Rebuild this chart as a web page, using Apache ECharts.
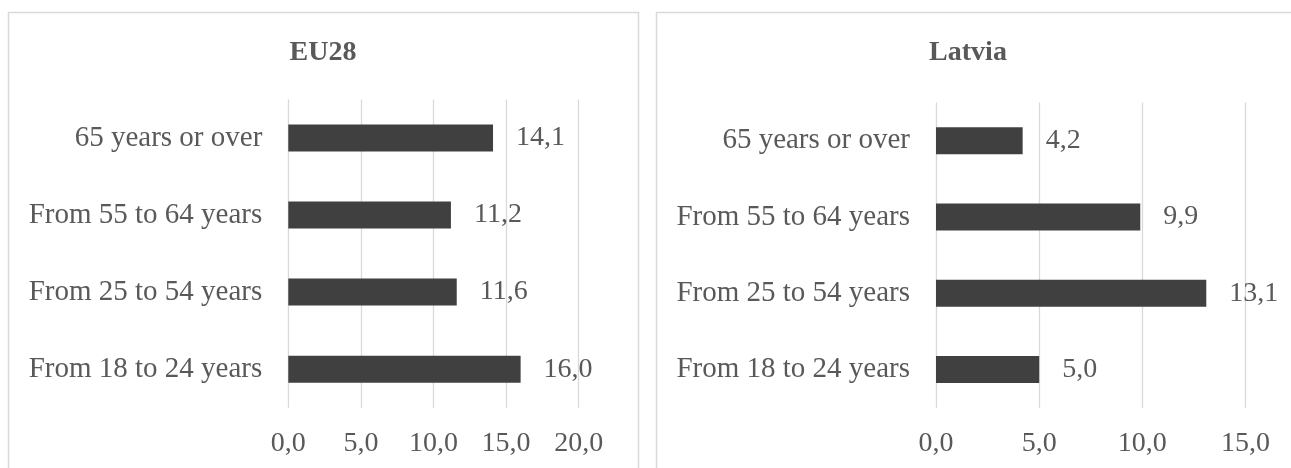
<!DOCTYPE html>
<html>
<head>
<meta charset="utf-8">
<script src="https://cdn.jsdelivr.net/npm/echarts@6/dist/echarts.min.js"></script>
<style>
  html, body { margin: 0; padding: 0; background: #ffffff; }
  #chart { width: 1291px; height: 468px; }
</style>
</head>
<body>
<div id="chart"></div>
<script>
// Age groups, listed bottom to top as drawn on the category axis
const ageGroups = ['From 18 to 24 years', 'From 25 to 54 years', 'From 55 to 64 years', '65 years or over'];
// Shares per age group (%)
const eu28Values = [16.0, 11.6, 11.2, 14.1];
const latviaValues = [5.0, 13.1, 9.9, 4.2];
const panelTitles = ['EU28', 'Latvia'];

const FONT = '"Liberation Serif", "Times New Roman", serif';
const TEXT = '#595959';
const BAR = '#404040';
const GRID_LINE = '#d9d9d9';

const comma = v => Number(v).toFixed(1).replace('.', ',');

function valueAxis(gridIndex, max) {
  return {
    type: 'value', gridIndex, min: 0, max, interval: 5,
    axisLine: { show: false }, axisTick: { show: false },
    splitLine: { show: true, showMinLine: true, showMaxLine: true, lineStyle: { color: GRID_LINE, width: 1.3 } },
    axisLabel: { formatter: comma, color: TEXT, fontFamily: FONT, fontSize: 28, margin: 22 }
  };
}

function categoryAxis(gridIndex) {
  return {
    type: 'category', gridIndex, data: ageGroups,
    axisLine: { show: false }, axisTick: { show: false }, splitLine: { show: false },
    axisLabel: { color: TEXT, fontFamily: FONT, fontSize: 29, margin: 26 }
  };
}

function barSeries(idx, values) {
  return {
    type: 'bar', xAxisIndex: idx, yAxisIndex: idx, data: values,
    barWidth: 27,
    itemStyle: { color: BAR },
    label: {
      show: true, position: 'right', distance: 23, formatter: p => comma(p.value),
      color: TEXT, fontFamily: FONT, fontSize: 28
    },
    silent: true, animation: false
  };
}

const chart = echarts.init(document.getElementById('chart'), null, { renderer: 'canvas' });
chart.setOption({
  backgroundColor: '#ffffff',
  animation: false,
  title: [
    { text: panelTitles[0], left: 318, top: 34, textAlign: 'center',
      textStyle: { fontFamily: FONT, fontSize: 28, fontWeight: 'bold', color: TEXT } },
    { text: panelTitles[1], left: 963, top: 34, textAlign: 'center',
      textStyle: { fontFamily: FONT, fontSize: 28, fontWeight: 'bold', color: TEXT } }
  ],
  graphic: [
    { type: 'rect', shape: { x: 8.5, y: 12.5, width: 630, height: 480 },
      style: { fill: 'none', stroke: GRID_LINE, lineWidth: 1.5 }, silent: true, z: -1 },
    { type: 'rect', shape: { x: 656.5, y: 12.5, width: 640, height: 480 },
      style: { fill: 'none', stroke: GRID_LINE, lineWidth: 1.5 }, silent: true, z: -1 }
  ],
  grid: [
    { left: 288.3, top: 99.4, width: 290.4, height: 308.3, containLabel: false },
    { left: 936, top: 102.5, width: 309.5, height: 305.2, containLabel: false }
  ],
  xAxis: [valueAxis(0, 20), valueAxis(1, 15)],
  yAxis: [categoryAxis(0), categoryAxis(1)],
  series: [barSeries(0, eu28Values), barSeries(1, latviaValues)]
});
</script>
</body>
</html>
